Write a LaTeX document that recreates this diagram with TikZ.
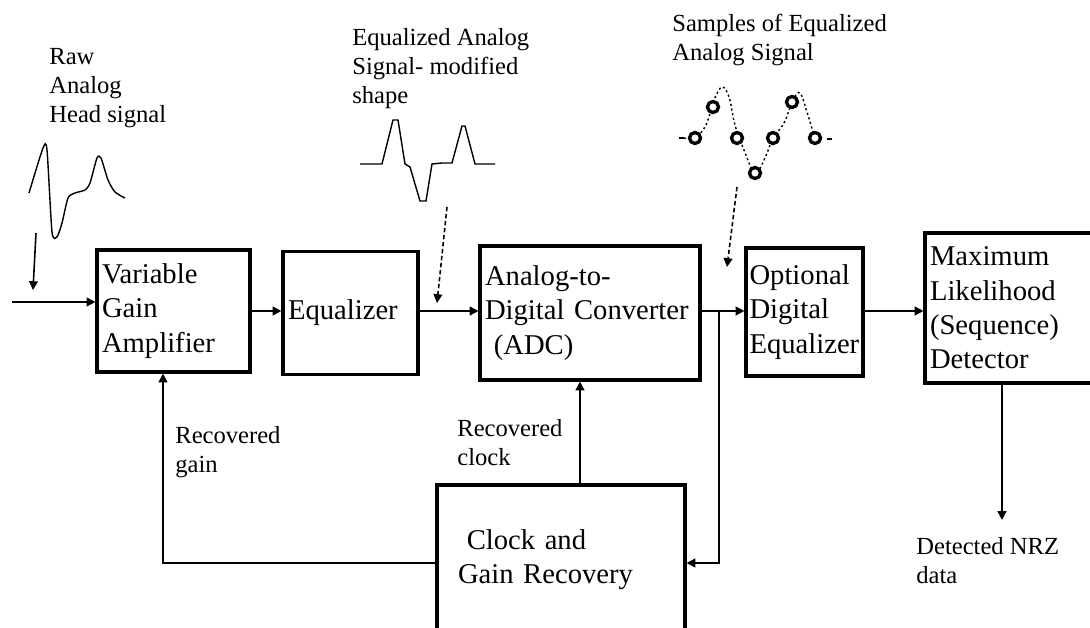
\documentclass[tikz,border=0pt]{standalone}
\usepackage{fontspec}
\setmainfont{Liberation Serif}
\usetikzlibrary{arrows.meta}
\begin{document}
\begin{tikzpicture}[x=0.02cm, y=-0.02cm,
	blk/.style={draw, line width=1.8pt, align=left, inner xsep=0.1cm, inner ysep=0pt, font=\fontsize{16.3}{19.5}\selectfont},
	lbl/.style={anchor=north west, inner sep=0pt, align=left, font=\fontsize{14}{16.5}\selectfont},
	arr/.style={-{Triangle[length=5pt,width=5pt]}, line width=0.9pt},
	darr/.style={arr, dash pattern=on 2.5pt off 1.5pt},
	wave/.style={line width=0.8pt},
	smp/.style={line width=1.9pt, fill=white}]
	\useasboundingbox (0,0) rectangle (1090,628);

	\node[blk, text width=2.86cm, minimum height=2.44cm] at (173.5,311) (vga) {Variable\\Gain\\Amplifier};
	\node[blk, text width=2.5cm, minimum height=2.46cm] at (350.5,313) (eq) {Equalizer};
	\node[blk, text width=4.2cm, minimum height=2.68cm] at (590,313) (adc) {Analog-to-\\Digital Converter\\\hspace*{5pt}(ADC)};
	\node[blk, inner xsep=0.07cm, text width=2.2cm, minimum height=2.56cm] at (804.5,312) (opt) {Optional\\Digital\\Equalizer};
	\node[blk, text width=3.2cm, minimum height=3cm] at (1010,308) (ml) {Maximum\\Likelihood\\(Sequence)\\Detector};
	\node[blk, inner xsep=0.42cm, text width=4.12cm, minimum height=3cm] at (561,560) (clk) {\hspace*{5pt}Clock and\\Gain Recovery};

	\node[lbl] at (49,48) (raw) {Raw\\Analog\\Head signal};
	\node[lbl] at (352,28) (eqsig) {Equalized Analog\\Signal- modified\\shape};
	\node[lbl] at (672,14) (samples) {Samples of Equalized\\Analog Signal};
	\node[lbl] at (175,426) (rgain) {Recovered\\gain};
	\node[lbl] at (457,419) (rclock) {Recovered\\clock};
	\node[lbl] at (916,537) (nrzlbl) {Detected NRZ\\data};

	\coordinate (in) at (12,302);
	\coordinate (tap) at (719,311);
	\coordinate (fbk) at (0,563);
	\coordinate (gx) at (163,0);
	\coordinate (ck) at (580,0);
	\coordinate (nrz) at (1002,520);
	\coordinate (rawtop) at (36,233);
	\coordinate (rawtip) at (33,290);
	\coordinate (eqtop) at (447,207);
	\coordinate (eqtip) at (437,303);
	\coordinate (smptop) at (737,187);
	\coordinate (smptip) at (727,267);

	\draw[arr] (in) -- (in -| vga.west);
	\draw[arr] (vga.east |- tap) -- (eq.west |- tap);
	\draw[arr] (eq.east |- tap) -- (adc.west |- tap);
	\draw[arr] (adc.east |- tap) -- (opt.west |- tap);
	\draw[arr] (opt.east |- tap) -- (ml.west |- tap);
	\draw[arr] (tap) |- (clk.east |- fbk);
	\draw[arr] (clk.west |- fbk) -| (gx |- vga.south);
	\draw[arr] (clk.north -| ck) -- (adc.south -| ck);
	\draw[arr] (ml.south -| nrz) -- (nrz);

	\draw[arr] (rawtop) -- (rawtip);
	\draw[darr] (eqtop) -- (eqtip);
	\draw[darr] (smptop) -- (smptip);

	\draw[wave] plot[smooth, tension=0.4] coordinates {(29,193) (43,148) (47,150) (52,232) (57,237) (62,223) (68,198) (75,193) (85,190) (90,183) (97,158) (101,158) (108,180) (115,192) (125,198)};
	\draw[wave] (360,164) -- (382,164) -- (393,120) -- (398,120) -- (405,164) -- (410,167) -- (420,201) -- (426,201) -- (432,164) -- (442,163) -- (452,163) -- (462,126) -- (465,126) -- (475,164) -- (495,164);

	\draw[wave, dash pattern=on 1.2pt off 1.5pt] plot[smooth, tension=0.6] coordinates {(684,138) (695,138) (706,125) (714,100) (722,87) (729,97) (735,125) (744,150) (755,173) (765,158) (773,138) (784,123) (793,100) (800,93) (807,112) (813,132) (815,138)};
	\draw[wave] (679,138) -- (684,138);
	\draw[wave] (827,139) -- (832,139);
	\foreach \sx/\sy in {695/138, 713/107, 737/138, 755/173, 773/138, 792/102, 815/138}
		\draw[smp] (\sx,\sy) circle[radius=0.11cm];
\end{tikzpicture}
\end{document}
